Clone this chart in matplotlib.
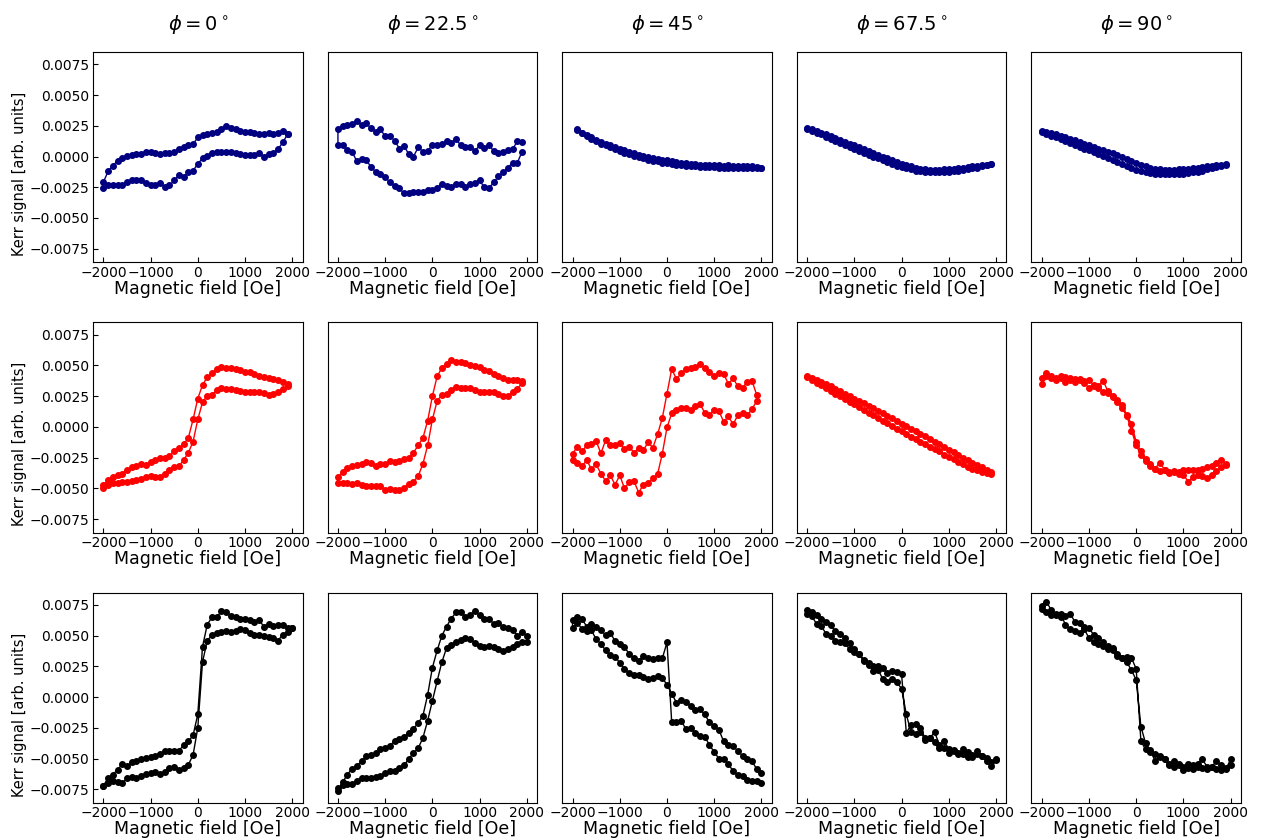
import numpy as np
import matplotlib
matplotlib.use("Agg")
import matplotlib.pyplot as plt

# magnetic field sweep points [Oe]
FIELD = [-2000, -1900, -1800, -1700, -1600, -1500, -1400, -1300, -1200, -1100,
         -1000, -900, -800, -700, -600, -500, -400, -300, -200, -100,
         0, 100, 200, 300, 400, 500, 600, 700, 800, 900,
         1000, 1100, 1200, 1300, 1400, 1500, 1600, 1700, 1800, 1900, 2000]

ANGLES = ["0", "22.5", "45", "67.5", "90"]
ROW_COLORS = ["navy", "red", "black"]

# Kerr signal in units of 1e-3, two branches per loop (a, b), value at each FIELD point
r1c1_a = [-2.1, -1.2, -0.75, -0.35, -0.15, 0.05, 0.15, 0.2, 0.22, 0.35,
          0.35, 0.25, 0.22, 0.27, 0.28, 0.35, 0.6, 0.75, 0.9, 1.0,
          1.55, 1.75, 1.85, 1.9, 2.0, 2.2, 2.45, 2.35, 2.25, 2.1,
          2.0, 2.0, 1.95, 1.8, 1.85, 1.9, 1.85, 1.9, 2.1, 1.85, None]
r1c1_b = [-2.55, -2.3, -2.3, -2.35, -2.3, -2.1, -1.9, -1.95, -1.95, -2.15,
          -2.3, -2.3, -2.15, -2.45, -2.35, -1.95, -1.5, -1.65, -1.3, -1.15,
          -0.6, -0.15, 0.05, 0.25, 0.35, 0.4, 0.4, 0.35, 0.25, 0.2,
          0.15, 0.1, 0.15, 0.25, 0.0, 0.2, 0.3, 0.6, 1.15, 1.8, None]

r1c2_a = [2.2, 2.5, 2.6, 2.65, 2.85, 2.6, 2.7, 2.3, 2.0, 2.2,
          1.65, 1.65, 1.3, 0.65, 0.85, 0.2, 0.0, 0.75, 0.4, 0.45,
          0.95, 0.95, 1.05, 1.25, 1.1, 1.45, 0.9, 0.75, 0.8, 0.45,
          0.9, 0.7, 0.9, 0.45, 0.25, 0.4, 0.55, 0.6, 1.25, 1.15, None]
r1c2_b = [0.95, 0.95, 0.5, 0.4, -0.4, -0.2, -0.3, -0.85, -1.25, -1.4,
          -1.7, -2.1, -2.4, -2.6, -3.0, -2.95, -2.85, -2.9, -2.9, -2.75,
          -2.7, -2.6, -2.2, -2.4, -2.45, -2.25, -2.2, -2.45, -2.2, -2.15,
          -1.95, -2.5, -2.55, -2.1, -1.6, -1.3, -0.9, -0.5, -0.5, 0.4, None]

r1c3_a = [None, 2.2, 1.95, 1.75, 1.55, 1.35, 1.2, 1.05, 0.9, 0.75,
          0.6, 0.5, 0.35, 0.25, 0.15, 0.05, -0.05, -0.15, -0.2, -0.25,
          -0.3, -0.4, -0.45, -0.5, -0.55, -0.6, -0.6, -0.65, -0.65, -0.7,
          -0.7, -0.7, -0.75, -0.7, -0.75, -0.75, -0.75, -0.8, -0.8, -0.85, -0.9]
r1c3_b = [None, 2.15, 1.9, 1.65, 1.45, 1.25, 1.05, 0.9, 0.75, 0.6,
          0.45, 0.3, 0.2, 0.05, -0.05, -0.15, -0.25, -0.35, -0.4, -0.5,
          -0.55, -0.6, -0.65, -0.7, -0.75, -0.8, -0.8, -0.85, -0.85, -0.85,
          -0.85, -0.9, -0.9, -0.9, -0.9, -0.9, -0.9, -0.9, -0.9, -0.95, -0.95]

r1c4_a = [2.3, 2.2, 2.1, 1.95, 1.8, 1.65, 1.5, 1.35, 1.2, 1.05,
          0.9, 0.75, 0.6, 0.45, 0.3, 0.15, 0.0, -0.15, -0.3, -0.45,
          -0.6, -0.7, -0.8, -0.9, -1.0, -1.05, -1.1, -1.1, -1.1, -1.05,
          -1.05, -1.0, -0.95, -0.9, -0.85, -0.8, -0.75, -0.7, -0.65, -0.6, None]
r1c4_b = [2.25, 2.1, 1.95, 1.8, 1.6, 1.45, 1.3, 1.1, 0.95, 0.8,
          0.6, 0.45, 0.3, 0.15, 0.0, -0.15, -0.3, -0.45, -0.6, -0.75,
          -0.85, -0.95, -1.05, -1.15, -1.2, -1.25, -1.3, -1.3, -1.3, -1.25,
          -1.25, -1.2, -1.15, -1.1, -1.05, -0.95, -0.9, -0.8, -0.72, -0.62, None]

r1c5_a = [2.05, 2.0, 1.9, 1.8, 1.7, 1.55, 1.45, 1.35, 1.2, 1.05,
          0.95, 0.8, 0.65, 0.55, 0.4, 0.25, 0.1, -0.05, -0.2, -0.35,
          -0.5, -0.65, -0.8, -0.9, -1.0, -1.05, -1.1, -1.1, -1.1, -1.05,
          -1.05, -1.0, -0.95, -0.9, -0.85, -0.8, -0.75, -0.7, -0.65, -0.6, None]
r1c5_b = [2.0, 1.85, 1.7, 1.55, 1.4, 1.25, 1.1, 0.95, 0.8, 0.65,
          0.5, 0.35, 0.2, 0.05, -0.1, -0.25, -0.45, -0.6, -0.8, -0.95,
          -1.1, -1.2, -1.3, -1.35, -1.4, -1.45, -1.45, -1.45, -1.45, -1.4,
          -1.4, -1.35, -1.3, -1.25, -1.15, -1.05, -0.95, -0.85, -0.75, -0.65, None]

r2c1_a = [-4.7, -4.3, -4.05, -3.9, -3.8, -3.5, -3.3, -3.15, -3.0, -3.1,
          -2.85, -2.7, -2.5, -2.55, -2.35, -2.0, -1.75, -1.4, -0.9, 0.6,
          2.3, 3.4, 4.05, 4.35, 4.7, 4.85, 4.8, 4.75, 4.7, 4.6,
          4.5, 4.45, 4.3, 4.1, 4.05, 4.0, 3.9, 3.8, 3.65, 3.45, None]
r2c1_b = [-5.0, -4.75, -4.6, -4.55, -4.5, -4.45, -4.4, -4.35, -4.25, -4.1,
          -4.0, -4.05, -4.1, -3.8, -3.55, -3.3, -3.2, -2.7, -2.1, -1.2,
          0.6, 2.0, 2.55, 2.6, 3.0, 3.2, 3.1, 3.1, 3.0, 2.9,
          2.85, 2.85, 2.85, 2.8, 2.75, 2.6, 2.7, 2.85, 3.05, 3.35, None]

r2c2_a = [-4.1, -3.65, -3.35, -3.15, -3.1, -3.05, -2.85, -2.9, -3.15, -3.0,
          -3.0, -2.8, -2.85, -2.8, -2.6, -2.5, -2.1, -1.5, -0.9, 0.5,
          2.5, 4.1, 4.8, 5.1, 5.4, 5.3, 5.25, 5.2, 5.0, 4.95,
          4.9, 4.6, 4.55, 4.3, 4.1, 3.95, 3.85, 3.8, 3.8, 3.75, None]
r2c2_b = [-4.6, -4.6, -4.55, -4.65, -4.6, -4.7, -4.8, -4.8, -4.8, -4.85,
          -5.1, -5.05, -5.1, -5.15, -4.95, -4.65, -4.45, -4.0, -3.0, -1.5,
          0.6, 2.1, 2.6, 2.7, 3.0, 3.25, 3.2, 3.15, 3.2, 3.0,
          2.85, 2.85, 2.85, 2.8, 2.7, 2.55, 2.5, 2.8, 3.1, 3.55, None]

r2c3_a = [-2.2, -1.6, -2.0, -1.5, -1.4, -1.15, -2.15, -1.1, -1.5, -1.5,
          -1.35, -1.8, -1.6, -2.1, -1.7, -1.9, -1.25, -1.7, -0.6, 0.7,
          2.7, 4.7, 3.9, 4.35, 4.7, 4.8, 4.9, 5.1, 4.75, 4.5,
          4.15, 4.4, 4.3, 3.5, 3.95, 3.3, 3.2, 3.65, 3.75, 2.6, None]
r2c3_b = [-2.7, -2.9, -3.2, -2.7, -3.45, -3.05, -3.8, -4.4, -3.95, -4.7,
          -3.95, -5.0, -4.5, -4.4, -5.35, -4.7, -4.6, -4.2, -3.85, -2.2,
          -0.05, 1.1, 1.4, 1.55, 1.55, 1.4, 1.7, 1.85, 1.15, 0.95,
          1.4, 1.3, 0.4, 0.85, 0.2, 0.95, 1.1, 0.95, 1.45, 2.1, None]

r2c4_a = [4.1, 4.0, 3.85, 3.65, 3.5, 3.3, 3.1, 2.9, 2.7, 2.5,
          2.3, 2.1, 1.9, 1.7, 1.5, 1.3, 1.1, 0.9, 0.7, 0.45,
          0.25, 0.05, -0.15, -0.35, -0.55, -0.75, -0.95, -1.2, -1.4, -1.6,
          -1.85, -2.05, -2.3, -2.5, -2.7, -2.9, -3.1, -3.3, -3.5, -3.65, None]
r2c4_b = [4.05, 3.85, 3.6, 3.4, 3.15, 2.95, 2.7, 2.5, 2.3, 2.05,
          1.85, 1.6, 1.4, 1.15, 0.95, 0.7, 0.5, 0.3, 0.05, -0.15,
          -0.35, -0.55, -0.8, -1.0, -1.2, -1.4, -1.6, -1.8, -2.0, -2.25,
          -2.45, -2.65, -2.85, -3.05, -3.25, -3.4, -3.55, -3.65, -3.75, -3.8, None]

r2c5_a = [4.0, 4.35, 4.15, 4.0, 4.15, 4.05, 4.0, 3.9, 3.9, 3.75,
          3.8, 3.4, 3.3, 3.75, 2.9, 2.55, 2.2, 1.75, 1.0, 0.2,
          -1.2, -2.0, -2.6, -3.05, -3.4, -2.9, -3.5, -3.65, -3.6, -3.7,
          -3.5, -3.55, -3.5, -3.55, -3.45, -3.3, -3.2, -2.9, -2.7, -3.0, None]
r2c5_b = [3.5, 4.1, 3.95, 3.85, 3.95, 3.65, 3.8, 3.65, 3.8, 3.6,
          3.15, 3.35, 3.2, 2.85, 2.75, 2.45, 2.05, 1.5, 0.9, -0.3,
          -1.5, -2.3, -2.75, -3.2, -3.45, -3.6, -3.55, -3.75, -3.7, -3.8,
          -3.9, -4.45, -4.1, -3.95, -4.0, -4.2, -3.9, -3.6, -3.3, -3.1, None]

r3c1_a = [-7.2, -6.6, -6.3, -5.9, -5.45, -5.6, -5.3, -5.2, -5.0, -4.95,
          -4.9, -4.8, -4.6, -4.4, -4.35, -4.35, -4.35, -3.9, -3.6, -3.1,
          -1.4, 4.1, 5.9, 6.5, 6.5, 7.0, 6.9, 6.6, 6.55, 6.4,
          6.4, 6.25, 6.15, 6.25, 5.75, 5.95, 5.8, 5.9, 5.9, 5.65, 5.65]
r3c1_b = [-7.2, -6.95, -6.8, -6.9, -7.0, -6.6, -6.5, -6.6, -6.4, -6.25,
          -6.15, -6.1, -6.25, -6.05, -5.75, -5.7, -5.9, -5.75, -5.5, -4.7,
          -2.5, 2.85, 4.6, 5.05, 5.2, 5.3, 5.35, 5.3, 5.4, 5.55,
          5.45, 5.2, 5.1, 5.05, 4.95, 4.9, 4.8, 4.6, 5.1, 5.3, 5.6]

r3c2_a = [-7.6, -6.9, -6.3, -5.8, -5.6, -5.2, -4.8, -4.7, -4.55, -4.25,
          -4.1, -3.95, -3.55, -3.4, -3.2, -2.9, -2.55, -2.1, -1.5, 0.2,
          2.4, 3.8, 5.0, 5.75, 6.4, 6.9, 6.95, 6.55, 6.7, 7.0,
          6.65, 6.4, 6.4, 5.95, 6.0, 5.75, 5.6, 5.5, 5.0, 5.3, 5.0]
r3c2_b = [-7.4, -7.15, -7.1, -7.1, -6.8, -6.55, -6.6, -6.55, -6.5, -6.4,
          -6.2, -6.0, -6.0, -5.75, -5.55, -5.0, -4.55, -4.15, -3.3, -1.9,
          -0.3, 1.3, 2.85, 4.0, 4.25, 4.5, 4.65, 4.8, 4.75, 4.4,
          4.15, 4.1, 4.2, 4.05, 3.9, 3.75, 3.95, 4.1, 4.35, 4.5, 4.5]

r3c3_a = [6.3, 6.55, 6.35, 5.75, 5.95, 5.7, 5.45, 5.05, 5.25, 4.55,
          4.35, 4.1, 3.5, 3.15, 2.95, 3.35, 3.15, 3.1, 3.2, 3.15,
          4.45, -2.05, -2.0, -1.9, -2.6, -2.5, -2.9, -3.15, -3.2, -3.9,
          -4.45, -5.0, -5.05, -5.45, -6.0, -6.3, -6.45, -6.7, -6.85, -6.85, -7.0]
r3c3_b = [5.65, 6.05, 5.55, 5.4, 5.45, 4.7, 4.35, 3.8, 3.4, 3.3,
          2.8, 2.3, 1.95, 1.8, 1.8, 1.65, 1.45, 1.55, 1.75, 1.6,
          1.0, 0.3, -0.45, -0.2, -0.4, -0.7, -1.05, -1.0, -1.4, -2.05,
          -2.35, -2.65, -3.6, -3.9, -3.95, -4.4, -4.75, -5.0, -5.2, -5.85, -6.2]

r3c4_a = [7.1, 6.95, 6.7, 6.35, 6.15, 5.85, 5.35, 5.15, 4.8, 4.4,
          3.9, 3.5, 2.95, 2.65, 2.5, 2.55, 2.4, 1.95, 2.1, 2.05,
          1.85, -2.9, -2.25, -2.15, -2.5, -3.35, -3.3, -2.85, -3.85, -3.6,
          -4.2, -4.3, -4.6, -4.25, -4.85, -4.9, -4.4, -4.75, -5.2, -5.6, -5.0]
r3c4_b = [6.8, 6.6, 5.95, 5.8, 5.15, 4.95, 4.55, 4.5, 4.4, 3.9,
          3.7, 3.5, 3.05, 2.8, 2.15, 2.25, 1.5, 1.25, 1.5, 1.2,
          0.7, -1.4, -2.85, -3.0, -2.8, -3.5, -3.3, -3.65, -4.1, -4.1,
          -4.55, -4.4, -4.5, -4.6, -4.45, -4.7, -4.65, -4.75, -4.95, -5.25, -5.1]

r3c5_a = [7.4, 7.75, 7.1, 6.8, 6.55, 6.6, 6.8, 6.15, 6.0, 5.7,
          5.65, 5.05, 4.8, 4.5, 4.15, 4.0, 3.5, 3.2, 3.3, 3.2,
          2.3, -3.6, -4.25, -4.45, -4.6, -4.9, -5.05, -5.45, -5.2, -5.4,
          -5.95, -5.45, -5.55, -5.4, -5.05, -5.65, -5.65, -5.2, -5.55, -5.85, -5.05]
r3c5_b = [7.15, 6.95, 6.7, 6.65, 6.8, 5.9, 5.55, 5.4, 5.25, 5.55,
          4.8, 4.45, 4.35, 4.2, 3.9, 3.8, 3.35, 3.2, 2.85, 2.2,
          1.4, -2.4, -3.75, -4.3, -5.2, -4.75, -5.0, -5.5, -5.65, -5.55,
          -5.65, -5.75, -5.85, -5.65, -5.75, -5.8, -5.65, -5.85, -5.95, -5.75, -5.55]

loops = [
    [(r1c1_a, r1c1_b), (r1c2_a, r1c2_b), (r1c3_a, r1c3_b), (r1c4_a, r1c4_b), (r1c5_a, r1c5_b)],
    [(r2c1_a, r2c1_b), (r2c2_a, r2c2_b), (r2c3_a, r2c3_b), (r2c4_a, r2c4_b), (r2c5_a, r2c5_b)],
    [(r3c1_a, r3c1_b), (r3c2_a, r3c2_b), (r3c3_a, r3c3_b), (r3c4_a, r3c4_b), (r3c5_a, r3c5_b)],
]

fig, axes = plt.subplots(3, 5, figsize=(12.63, 8.39), dpi=100)
fig.subplots_adjust(left=0.0736, right=0.9826, top=0.938, bottom=0.043,
                    wspace=0.119, hspace=0.286)

H = np.array(FIELD, dtype=float)
for r in range(3):
    for c in range(5):
        ax = axes[r, c]
        a, b = loops[r][c]
        a = np.array(a, dtype=float) * 1e-3
        b = np.array(b, dtype=float) * 1e-3
        # down sweep on branch a, then back up on branch b
        x = np.concatenate([H[::-1], H])
        y = np.concatenate([a[::-1], b])
        ok = ~np.isnan(y)
        ax.plot(x[ok], y[ok], '-o', color=ROW_COLORS[r], lw=1, ms=4)
        ax.set_xlim(-2220, 2220)
        ax.set_ylim(-0.0086, 0.0085)
        ax.set_xticks([-2000, -1000, 0, 1000, 2000])
        ax.tick_params(direction='in', labelsize=10, pad=2.5)
        ax.set_xlabel("Magnetic field [Oe]", fontsize=12.5, labelpad=0)
        if c == 0:
            ax.set_yticks([-0.0075, -0.005, -0.0025, 0, 0.0025, 0.005, 0.0075])
            ax.set_ylabel("Kerr signal [arb. units]", fontsize=10.5)
            ax.yaxis.set_label_coords(-0.315, 0.42)
        else:
            ax.set_yticks([])
        if r == 0:
            ax.set_title(r"$\phi = %s^\circ$" % ANGLES[c], fontsize=14, pad=16)

fig.savefig("out.png", dpi=100)
